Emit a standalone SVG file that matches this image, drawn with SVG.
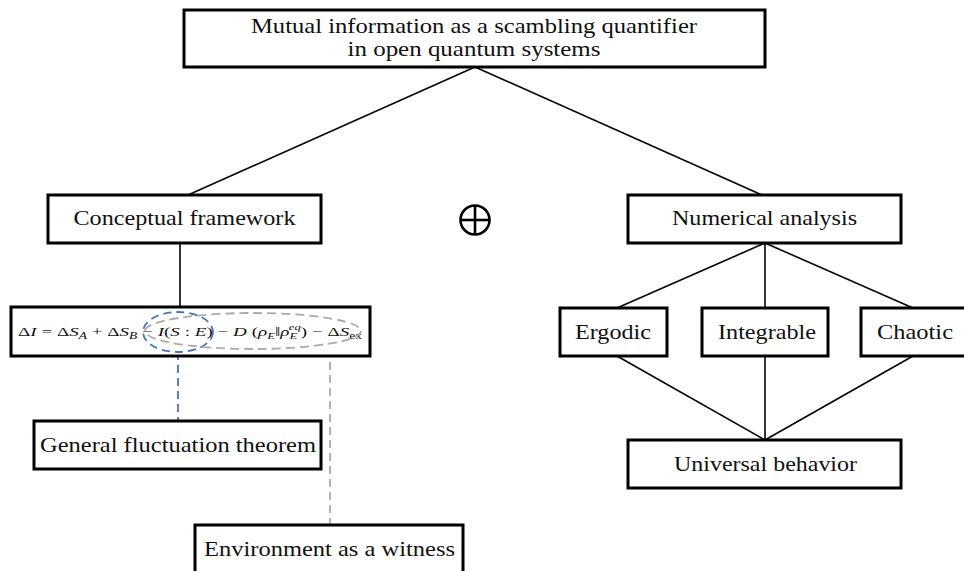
<svg xmlns="http://www.w3.org/2000/svg" width="964" height="571" viewBox="0 0 964 571">
<style>
.box{fill:#fff;stroke:#000;stroke-width:3}
.t{font-size:21px;fill:#111;text-anchor:middle}
.eq{font-size:13.5px;fill:#111}
.ln{stroke:#000;stroke-width:1.6;fill:none}
</style>
<rect width="964" height="571" fill="#fff"/>
<g id="connectors">
<line class="ln" x1="475" y1="67" x2="188" y2="195"/>
<line class="ln" x1="475" y1="67" x2="762" y2="195"/>
<line class="ln" x1="180" y1="243" x2="180" y2="307"/>
<line class="ln" x1="765" y1="243" x2="617" y2="308"/>
<line class="ln" x1="765" y1="243" x2="765" y2="308"/>
<line class="ln" x1="765" y1="243" x2="913" y2="308"/>
<line class="ln" x1="617" y1="356" x2="765" y2="440"/>
<line class="ln" x1="765" y1="356" x2="765" y2="440"/>
<line class="ln" x1="913" y1="356" x2="765" y2="440"/>
<line x1="178" y1="352" x2="178" y2="421" stroke="#4472c4" stroke-width="1.8" stroke-dasharray="8,5"/>
<line x1="330" y1="349" x2="330" y2="525" stroke="#aaa" stroke-width="1.8" stroke-dasharray="8,5"/>
</g>
<g font-family="Liberation Serif, DejaVu Serif, serif">
<g id="title">
<rect class="box" x="184" y="10" width="581" height="57"/>
<text class="t" x="474" y="33" textLength="446" lengthAdjust="spacingAndGlyphs">Mutual information as a scambling quantifier</text>
<text class="t" x="474" y="56" textLength="253" lengthAdjust="spacingAndGlyphs">in open quantum systems</text>
</g>
<g id="conceptual">
<rect class="box" x="48" y="195" width="273" height="48"/>
<text class="t" x="184.5" y="225" textLength="222" lengthAdjust="spacingAndGlyphs">Conceptual framework</text>
</g>
<g id="oplus">
<circle cx="475" cy="220" r="14.5" fill="none" stroke="#000" stroke-width="2.6"/>
<line x1="460.5" y1="220" x2="489.5" y2="220" stroke="#000" stroke-width="2.6"/>
<line x1="475" y1="205.5" x2="475" y2="234.5" stroke="#000" stroke-width="2.6"/>
</g>
<g id="numerical">
<rect class="box" x="628" y="195" width="273" height="48"/>
<text class="t" x="764.5" y="225" textLength="185" lengthAdjust="spacingAndGlyphs">Numerical analysis</text>
</g>
<g id="equation">
<rect class="box" x="11" y="307" width="359" height="49"/>
<text class="eq" x="18" y="336" textLength="344" lengthAdjust="spacingAndGlyphs">Δ<tspan font-style="italic">I</tspan> = Δ<tspan font-style="italic">S</tspan><tspan font-style="italic" font-size="9.5" dy="3">A</tspan><tspan dy="-3"> + Δ</tspan><tspan font-style="italic">S</tspan><tspan font-style="italic" font-size="9.5" dy="3">B</tspan><tspan dy="-3"> − </tspan><tspan font-style="italic">I</tspan>(<tspan font-style="italic">S</tspan> : <tspan font-style="italic">E</tspan>) − <tspan font-style="italic">D</tspan> (<tspan font-style="italic">ρ</tspan><tspan font-size="9" font-style="italic" dy="3">E</tspan><tspan dy="-3">‖</tspan><tspan font-style="italic">ρ</tspan><tspan font-size="9" font-style="italic" dy="3">E</tspan><tspan font-size="9" font-style="italic" dx="-6" dy="-9">eq</tspan><tspan dy="6">) − Δ</tspan><tspan font-style="italic">S</tspan><tspan font-size="9.5" dy="3">ex</tspan></text>
<ellipse cx="178" cy="332" rx="35" ry="20" fill="none" stroke="#4472c4" stroke-width="1.8" stroke-dasharray="8,5"/>
<ellipse cx="253" cy="331" rx="108" ry="18" fill="none" stroke="#aaa" stroke-width="1.8" stroke-dasharray="9,5"/>
</g>
<g id="ergodic">
<rect class="box" x="560" y="308" width="107" height="48"/>
<text class="t" x="613" y="339" textLength="76" lengthAdjust="spacingAndGlyphs">Ergodic</text>
</g>
<g id="integrable">
<rect class="box" x="702" y="308" width="126" height="48"/>
<text class="t" x="767" y="339" textLength="98" lengthAdjust="spacingAndGlyphs">Integrable</text>
</g>
<g id="chaotic">
<rect class="box" x="861" y="308" width="110" height="48"/>
<text class="t" x="915" y="339" textLength="76" lengthAdjust="spacingAndGlyphs">Chaotic</text>
</g>
<g id="universal">
<rect class="box" x="628" y="440" width="273" height="48"/>
<text class="t" x="765.5" y="471" textLength="183" lengthAdjust="spacingAndGlyphs">Universal behavior</text>
</g>
<g id="fluctuation">
<rect class="box" x="34" y="421" width="287" height="48"/>
<text class="t" x="178" y="452" textLength="276" lengthAdjust="spacingAndGlyphs">General fluctuation theorem</text>
</g>
<g id="witness">
<rect class="box" x="195" y="525" width="268" height="56"/>
<text class="t" x="329.5" y="556" textLength="251" lengthAdjust="spacingAndGlyphs">Environment as a witness</text>
</g>
</g>
</svg>
